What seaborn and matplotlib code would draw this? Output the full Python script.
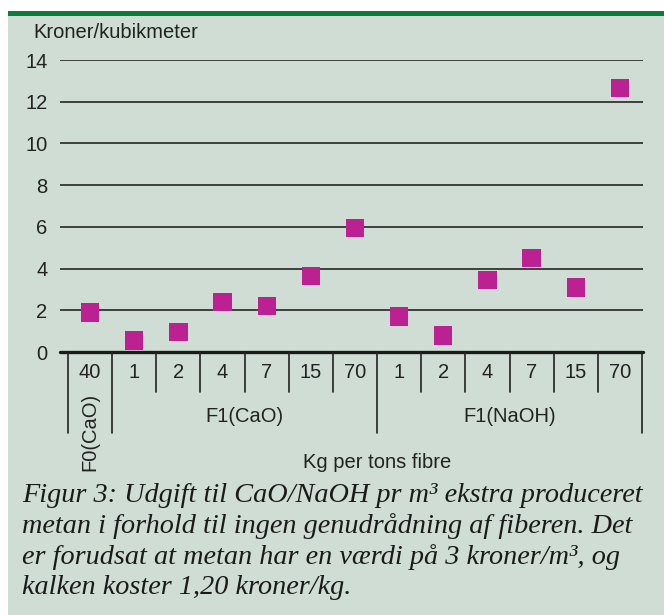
import seaborn as sns
import pandas as pd
import matplotlib.pyplot as plt
from matplotlib.patches import Rectangle

sns.set_style("white")
plt.rcParams['font.family'] = ['Liberation Sans', 'DejaVu Sans']

# data
groups = ["F0(CaO)"] + ["F1(CaO)"] * 6 + ["F1(NaOH)"] * 6
doses = ["40", "1", "2", "4", "7", "15", "70", "1", "2", "4", "7", "15", "70"]
values = [1.9, 0.55, 0.95, 2.4, 2.2, 3.65, 5.95, 1.7, 0.8, 3.45, 4.5, 3.1, 12.65]
yticks = [0, 2, 4, 6, 8, 10, 12, 14]

caption = ("Figur 3: Udgift til CaO/NaOH pr m\u00b3 ekstra produceret\n"
           "metan i forhold til ingen genudr\u00e5dning af fiberen. Det\n"
           "er forudsat at metan har en v\u00e6rdi p\u00e5 3 kroner/m\u00b3, og\n"
           "kalken koster 1,20 kroner/kg.")

df = pd.DataFrame({"pos": range(len(values)), "group": groups,
                   "dose": doses, "value": values})

W, H = 664, 615
bg = '#CFDDD4'
fs = 14.5
txt = '#222222'
fig = plt.figure(figsize=(W / 100, H / 100), dpi=100, facecolor='white')

# panel background and green top bar
fig.patches.append(Rectangle((8 / W, 0), 1, 1 - 16 / H, transform=fig.transFigure,
                             facecolor=bg, edgecolor='none', zorder=-10))
fig.patches.append(Rectangle((8 / W, 1 - 16 / H), 1, 5 / H, transform=fig.transFigure,
                             facecolor='#0B7D3B', edgecolor='none', zorder=-10))

ax = fig.add_axes([60 / W, (H - 352) / H, (643 - 60) / W, (352 - 60) / H])
ax.set_facecolor('none')
for s in ax.spines.values():
    s.set_visible(False)

n = len(values)
colw = 574 / 13
ax.set_xlim(-0.5 - 8 / colw, n - 0.5 + 1 / colw)
ax.set_ylim(0, 14)

for t in yticks[1:]:
    ax.axhline(t, color='#262626', lw=1.2, zorder=1)
ax.axhline(0, color='#1a1a1a', lw=2.4, zorder=1, clip_on=False)

sns.scatterplot(data=df, x="pos", y="value", marker='s', s=175, color='#BB2190',
                edgecolor='none', ax=ax, zorder=3, clip_on=False)

ax.set_yticks(yticks)
ax.set_yticklabels([str(t) for t in yticks], fontsize=fs, color=txt)
ax.tick_params(axis='y', length=0, pad=9)
ax.set_xticks([])
ax.set_xlabel("")
ax.set_ylabel("")

# category axis below: separators, dose labels, group labels
pxu = 292 / 14
bounds = [0] + [i for i in range(1, n) if groups[i] != groups[i - 1]] + [n]
for i in range(n + 1):
    long = i in bounds
    ax.plot([i - 0.5, i - 0.5], [0, -(81 if long else 40) / pxu], color=txt,
            lw=1.2, clip_on=False)
for i, d in enumerate(doses):
    ax.text(i, -21 / pxu, d, ha='center', va='center', fontsize=fs, color=txt)
for a, b in zip(bounds[:-1], bounds[1:]):
    name = groups[a]
    mid = (a + b - 1) / 2
    if b - a == 1:
        ax.text(mid, -80 / pxu, name, ha='center', va='center', rotation=90,
                fontsize=fs, color=txt)
    else:
        ax.text(mid, -65 / pxu, name, ha='center', va='center', fontsize=fs,
                color=txt)
ax.text(n / 2, -110 / pxu, "Kg per tons fibre", ha='center', va='center',
        fontsize=fs, color=txt)

fig.text(33 / W, 1 - 33 / H, "Kroner/kubikmeter", ha='left', va='center',
         fontsize=fs, color=txt)
fig.text(22 / W, 1 - 483 / H, caption, ha='left', va='top', fontsize=20.3,
         style='italic', family=['Liberation Serif', 'DejaVu Serif'],
         color='#1a1a1a', linespacing=1.26)

fig.savefig('out.png', dpi=100, facecolor='white')
